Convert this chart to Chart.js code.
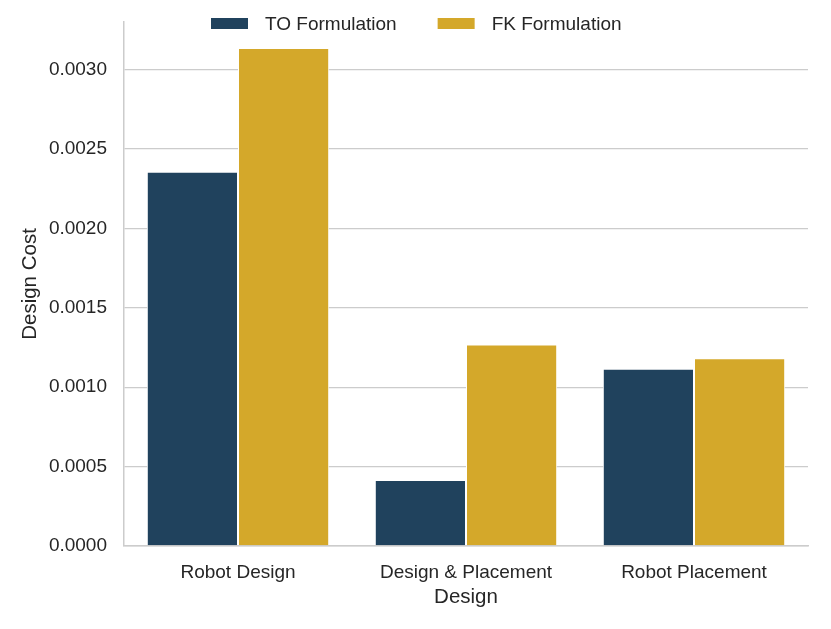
<!DOCTYPE html>
<html>
<head>
<meta charset="utf-8">
<style>
  html, body { margin: 0; padding: 0; background: #ffffff; }
  #wrap { width: 831px; height: 629px; }
</style>
<script src="https://cdn.jsdelivr.net/npm/chart.js@4.4.1/dist/chart.umd.min.js"></script>
</head>
<body>
<div id="wrap"><canvas id="c" width="831" height="629"></canvas></div>
<script>
const categories = ["Robot Design", "Design & Placement", "Robot Placement"];
const toValues = [0.002357, 0.000416, 0.001117];
const fkValues = [0.003137, 0.001269, 0.001182];
const seriesNames = ["TO Formulation", "FK Formulation"];
const yTicks = [0.0000, 0.0005, 0.0010, 0.0015, 0.0020, 0.0025, 0.0030];
const yMax = 0.0033;

const FONT = "'Liberation Sans', Arial, Helvetica, sans-serif";
const TEXT = "#262626";
const GRID = "#cccccc";

const legendPlugin = {
  id: "topLegend",
  afterDraw(chart) {
    const ctx = chart.ctx;
    ctx.save();
    ctx.font = "19px " + FONT;
    ctx.textBaseline = "middle";
    ctx.textAlign = "left";
    let x = 211;
    const boxW = 37, boxH = 11, boxY = 18, textY = 25, gap = 17, spacing = 41;
    chart.data.datasets.forEach(ds => {
      ctx.fillStyle = ds.backgroundColor;
      ctx.fillRect(x, boxY, boxW, boxH);
      ctx.fillStyle = TEXT;
      ctx.fillText(ds.label, x + boxW + gap, textY);
      x += boxW + gap + ctx.measureText(ds.label).width + spacing;
    });
    ctx.restore();
  }
};

new Chart(document.getElementById("c"), {
  type: "bar",
  data: {
    labels: categories,
    datasets: [
      { label: seriesNames[0], data: toValues, backgroundColor: "#20425d", borderColor: "#ffffff", borderWidth: 1 },
      { label: seriesNames[1], data: fkValues, backgroundColor: "#d4a82a", borderColor: "#ffffff", borderWidth: 1 }
    ]
  },
  options: {
    responsive: false,
    animation: false,
    layout: { padding: { top: 22, right: 23, left: 0, bottom: 0 } },
    datasets: { bar: { categoryPercentage: 0.8, barPercentage: 1.0 } },
    plugins: {
      legend: { display: false },
      tooltip: { enabled: false }
    },
    scales: {
      x: {
        grid: { display: false, drawTicks: false },
        border: { color: GRID, width: 1.5 },
        ticks: { color: TEXT, font: { family: FONT, size: 19 }, padding: 15, maxRotation: 0 },
        title: { display: true, text: "Design", color: TEXT, font: { family: FONT, size: 20.5 }, padding: { top: 0, bottom: 19.5 } },
        afterFit(s) { s.height = 83; s.paddingLeft = 0; s.paddingRight = 0; }
      },
      y: {
        min: 0,
        max: yMax,
        grid: { color: GRID, lineWidth: 1.3, drawTicks: false },
        border: { color: GRID, width: 1.5 },
        ticks: {
          color: TEXT,
          font: { family: FONT, size: 19 },
          padding: 17,
          callback: v => Number(v).toFixed(4)
        },
        afterBuildTicks(s) { s.ticks = yTicks.map(v => ({ value: v })); },
        title: { display: true, text: "Design Cost", color: TEXT, font: { family: FONT, size: 20.5 }, padding: { top: 18, bottom: 0 } },
        afterFit(s) { s.width = 124; s.paddingTop = 0; s.paddingBottom = 0; }
      }
    }
  },
  plugins: [legendPlugin]
});
</script>
</body>
</html>
